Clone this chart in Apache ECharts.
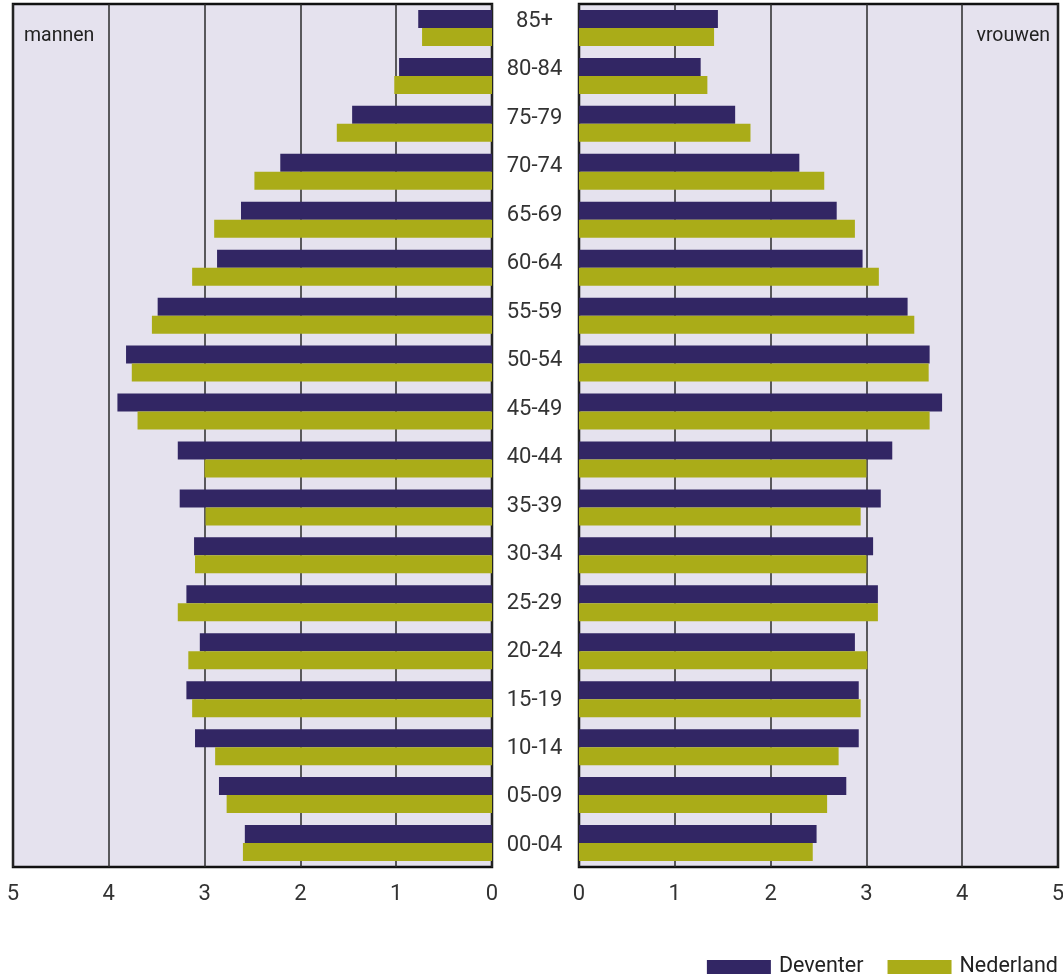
<!DOCTYPE html>
<html>
<head>
<meta charset="utf-8">
<script src="https://cdn.jsdelivr.net/npm/echarts@6/dist/echarts.min.js"></script>
<style>
html,body{margin:0;padding:0;background:#fff;}
#chart{width:1063px;height:974px;}
</style>
</head>
<body>
<div id="chart"></div>
<script>
const categories = ['85+','80-84','75-79','70-74','65-69','60-64','55-59','50-54','45-49','40-44','35-39','30-34','25-29','20-24','15-19','10-14','05-09','00-04'];
const deventerMen = [0.77,0.97,1.46,2.21,2.62,2.87,3.49,3.82,3.91,3.28,3.26,3.11,3.19,3.05,3.19,3.10,2.85,2.58];
const nederlandMen = [0.73,1.02,1.62,2.48,2.90,3.13,3.55,3.76,3.70,3.00,2.99,3.10,3.28,3.17,3.13,2.89,2.77,2.60];
const deventerWomen = [1.45,1.27,1.63,2.30,2.69,2.96,3.43,3.66,3.79,3.27,3.15,3.07,3.12,2.88,2.92,2.92,2.79,2.48];
const nederlandWomen = [1.41,1.34,1.79,2.56,2.88,3.13,3.50,3.65,3.66,3.00,2.94,3.00,3.12,3.01,2.94,2.71,2.59,2.44];
const xTicks = [0,1,2,3,4,5];

const C_DEV = '#322664';
const C_NL = '#aaac18';
const BG = '#e5e2ee';
const FONT = 'Roboto';

const chart = echarts.init(document.getElementById('chart'));

const gridBase = {show:true, backgroundColor:BG, borderColor:'#111', borderWidth:2.5, top:4, height:863, outerBoundsMode:'none', containLabel:false};
const valueAxis = (idx, inverse) => ({
  type:'value', gridIndex:idx, min:xTicks[0], max:xTicks[xTicks.length-1], interval:1, inverse:inverse,
  axisLine:{show:false}, axisTick:{show:false},
  splitLine:{show:true, lineStyle:{color:'#2a2a2a', width:1.5}},
  axisLabel:{color:'#333', fontFamily:FONT, fontSize:22, margin:16, showMinLabel:true, showMaxLabel:true}
});
const catAxis = (idx) => ({
  type:'category', gridIndex:idx, data:categories, inverse:true,
  axisLine:{show:false}, axisTick:{show:false}, axisLabel:{show:false}, splitLine:{show:false}
});
const barSeries = (name, data, idx, color) => ({
  name:name, type:'bar', xAxisIndex:idx, yAxisIndex:idx, data:data,
  barWidth:18, barGap:'0%', itemStyle:{color:color}, silent:true
});

chart.setOption({
  animation:false,
  textStyle:{fontFamily:FONT},
  title:[
    {text:'mannen', left:19, top:21, textStyle:{fontFamily:FONT, fontSize:19.5, fontWeight:'normal', color:'#222'}},
    {text:'vrouwen', right:8, top:21, textStyle:{fontFamily:FONT, fontSize:19.5, fontWeight:'normal', color:'#222'}}
  ],
  legend:{
    data:['Deventer','Nederland'], right:0, top:951, itemWidth:64, itemHeight:14, itemGap:24,
    icon:'rect', selectedMode:false,
    textStyle:{fontFamily:FONT, fontSize:21.5, color:'#222', padding:[0,0,0,3]}
  },
  grid:[
    Object.assign({}, gridBase, {left:13, width:479}),
    Object.assign({}, gridBase, {left:579, width:479}),
    {show:false, left:534.5, width:1, top:-2.8, height:872.5, outerBoundsMode:'none', containLabel:false}
  ],
  xAxis:[
    valueAxis(0, true),
    valueAxis(1, false),
    {type:'value', gridIndex:2, show:false}
  ],
  yAxis:[
    catAxis(0),
    catAxis(1),
    {type:'category', gridIndex:2, data:categories, inverse:true,
     axisLine:{show:false}, axisTick:{show:false}, splitLine:{show:false},
     axisLabel:{show:true, align:'center', margin:0, color:'#333', fontFamily:FONT, fontSize:22}}
  ],
  series:[
    barSeries('Deventer', deventerMen, 0, C_DEV),
    barSeries('Nederland', nederlandMen, 0, C_NL),
    barSeries('Deventer', deventerWomen, 1, C_DEV),
    barSeries('Nederland', nederlandWomen, 1, C_NL)
  ]
});
</script>
</body>
</html>
